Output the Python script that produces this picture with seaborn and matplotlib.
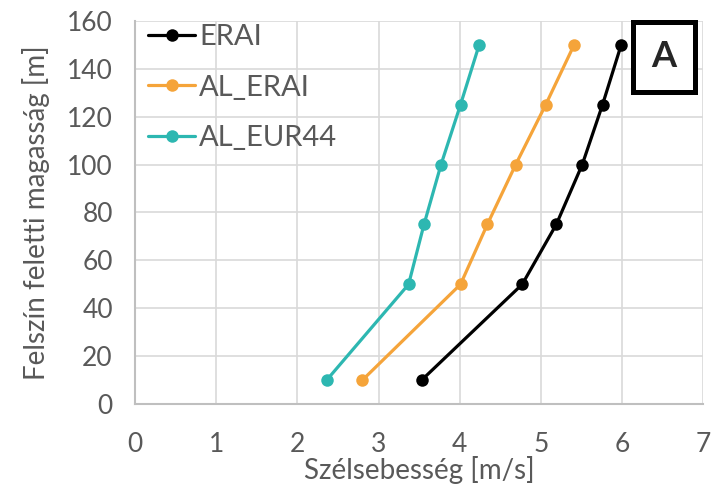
import pandas as pd
import matplotlib
matplotlib.use('Agg')
import matplotlib.pyplot as plt
from matplotlib.patches import Rectangle
import seaborn as sns

# Adatok
magassag = [10, 50, 75, 100, 125, 150]
erai = [3.53, 4.77, 5.19, 5.51, 5.76, 5.99]
al_erai = [2.80, 4.01, 4.34, 4.69, 5.06, 5.41]
al_eur44 = [2.36, 3.37, 3.56, 3.77, 4.01, 4.24]

sorozatok = ['ERAI', 'AL_ERAI', 'AL_EUR44']
szinek = ['#000000', '#F5A43A', '#2DB7B1']

df = pd.DataFrame({
    'magassag': magassag * 3,
    'szel': erai + al_erai + al_eur44,
    'sorozat': [s for s in sorozatok for _ in magassag],
})

sns.set_style('white')
plt.rcParams['font.family'] = ['Lato', 'DejaVu Sans']

fig = plt.figure(figsize=(7.11, 4.84), dpi=100)
ax = fig.add_axes([0.190, 0.165, 0.799, 0.792])

sns.lineplot(data=df, x='szel', y='magassag', hue='sorozat', palette=szinek,
             hue_order=sorozatok, sort=False, marker='o', markersize=9,
             markeredgewidth=0, linewidth=2.3, ax=ax)

ax.set_xlim(0, 7)
ax.set_ylim(0, 160)
ax.set_xticks(range(0, 8))
ax.set_yticks(range(0, 161, 20))
ax.grid(True, color='#D9D9D9', linewidth=1.2)
ax.set_axisbelow(True)
for s in ['top', 'right']:
    ax.spines[s].set_visible(False)
for s in ['left', 'bottom']:
    ax.spines[s].set_color('#BFBFBF')
    ax.spines[s].set_linewidth(1.5)

ax.tick_params(axis='both', labelsize=19, colors='#595959', length=0)
ax.tick_params(axis='y', pad=16)
ax.tick_params(axis='x', pad=20)
ax.set_xlabel('Szélsebesség [m/s]', fontsize=20, color='#595959', labelpad=-1)
ax.set_ylabel('Felszín feletti magasság [m]', fontsize=20, color='#595959', labelpad=12)

leg = ax.legend(loc='upper left', bbox_to_anchor=(0.018, 1.0), frameon=False,
                fontsize=21, handlelength=1.6, borderaxespad=0.1,
                labelspacing=0.85, handletextpad=0.15, borderpad=0.0)
for t in leg.get_texts():
    t.set_color('#595959')

# "A" jelolo doboz
fig.patches.append(Rectangle((0.890, 0.810), 0.088, 0.145, transform=fig.transFigure,
                             facecolor='white', edgecolor='black', linewidth=3.6,
                             zorder=5))
fig.text(0.934, 0.883, 'A', ha='center', va='center', fontsize=26,
         fontweight='bold', zorder=6)

fig.savefig('out.png', dpi=100)
